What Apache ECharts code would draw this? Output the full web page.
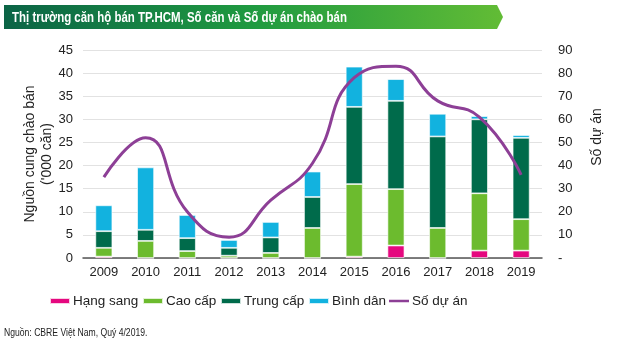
<!DOCTYPE html>
<html><head><meta charset="utf-8">
<script src="https://cdn.jsdelivr.net/npm/echarts@6/dist/echarts.min.js"></script>
<style>html,body{margin:0;padding:0;background:#fff}#c{width:640px;height:343px}</style>
</head><body><div id="c"></div>
<script>
const years = ['2009','2010','2011','2012','2013','2014','2015','2016','2017','2018','2019'];
const hangSang = [0.3, 0, 0, 0, 0, 0, 0.3, 2.7, 0, 1.6, 1.6];
const caoCap   = [1.9, 3.7, 1.5, 0.5, 1.1, 6.5, 15.7, 12.2, 6.5, 12.4, 6.8];
const trungCap = [3.6, 2.4, 2.8, 1.7, 3.35, 6.7, 16.7, 19.1, 19.8, 16.0, 17.6];
const binhDan  = [5.6, 13.5, 5.0, 1.7, 3.35, 5.5, 8.7, 4.7, 4.9, 0.7, 0.6];
const soDuAn   = [35, 52, 20, 9, 25, 41, 78, 83, 68, 61, 36];
const legendNames = ['Hạng sang', 'Cao cấp', 'Trung cấp', 'Bình dân', 'Số dự án'];

const chart = echarts.init(document.getElementById('c'));
const font = 'Liberation Sans, Arial, sans-serif';
const barStyle = (c) => ({color: c, borderColor: 'rgba(255,255,255,0.8)', borderWidth: 0.8});
const legendLefts = [49, 142, 220, 308, 389];
const legends = legendNames.map((n, i) => ({
  left: legendLefts[i], top: 294, itemWidth: 20, itemHeight: i === 4 ? 14 : 6,
  padding: 0, textStyle: {fontSize: 13.5, color: '#222', fontFamily: font, padding: [0,0,0,-2]},
  data: [{name: n, icon: i === 4 ? 'path://M0,6L20,6L20,8.5L0,8.5Z' : 'rect'}]
}));
chart.setOption({
  animation: false,
  textStyle: {fontFamily: font},
  graphic: [
    {type: 'polygon', shape: {points: [[4,5],[497,5],[503,17],[497,29],[4,29]]},
     style: {fill: new echarts.graphic.LinearGradient(0,0,1,0,[{offset:0,color:'#0b6446'},{offset:0.5,color:'#1f9a40'},{offset:1,color:'#62bc35'}])}},
    {type: 'text', x: 12, y: 18, scaleX: 0.74, scaleY: 1,
     style: {text: 'Thị trường căn hộ bán TP.HCM, Số căn và Số dự án chào bán', fill: '#fff',
       verticalAlign: 'middle', font: 'bold 15.5px "Liberation Sans", Arial, sans-serif'}},
    {type: 'text', x: 4, y: 333, scaleX: 0.82, scaleY: 1,
     style: {text: 'Nguồn: CBRE Việt Nam, Quý 4/2019.', fill: '#222', verticalAlign: 'middle',
       font: '10.5px "Liberation Sans", Arial, sans-serif'}},
    {type: 'text', x: 38.5, y: 154, rotation: Math.PI / 2,
     style: {text: "Nguồn cung chào bán\n('000 căn)", fill: '#222', align: 'center', verticalAlign: 'middle',
       lineHeight: 17, font: '14px "Liberation Sans", Arial, sans-serif'}},
    {type: 'text', x: 597, y: 137, rotation: Math.PI / 2,
     style: {text: 'Số dự án', fill: '#222', align: 'center', verticalAlign: 'middle',
       font: '14px "Liberation Sans", Arial, sans-serif'}}
  ],
  grid: {left: 83, right: 98, top: 50, bottom: 85},
  legend: legends,
  xAxis: {
    type: 'category', data: years,
    axisLine: {lineStyle: {color: '#555', width: 1.5}},
    axisTick: {show: false},
    axisLabel: {fontSize: 13, color: '#222', margin: 8}
  },
  yAxis: [
    {type: 'value', min: 0, max: 45, interval: 5,
     axisLabel: {fontSize: 13, color: '#222', margin: 10},
     axisLine: {show: false}, axisTick: {show: false},
     splitLine: {lineStyle: {color: '#e2e2e2', width: 1}}},
    {type: 'value', min: 0, max: 90, interval: 10,
     axisLabel: {fontSize: 13, color: '#222', margin: 16, formatter: v => v === 0 ? '-' : v},
     axisLine: {show: false}, axisTick: {show: false}, splitLine: {show: false}}
  ],
  series: [
    {name: 'Hạng sang', type: 'bar', stack: 's', data: hangSang, barWidth: 17, itemStyle: barStyle('#e5087f')},
    {name: 'Cao cấp', type: 'bar', stack: 's', data: caoCap, barWidth: 17, itemStyle: barStyle('#6cbb2e')},
    {name: 'Trung cấp', type: 'bar', stack: 's', data: trungCap, barWidth: 17, itemStyle: barStyle('#006b4b')},
    {name: 'Bình dân', type: 'bar', stack: 's', data: binhDan, barWidth: 17, itemStyle: barStyle('#12b2df')},
    {name: 'Số dự án', type: 'line', yAxisIndex: 1, data: soDuAn, smooth: 0.5, symbol: 'none',
     lineStyle: {color: '#8d3f96', width: 3}, itemStyle: {color: '#8d3f96'}}
  ]
});
</script></body></html>
